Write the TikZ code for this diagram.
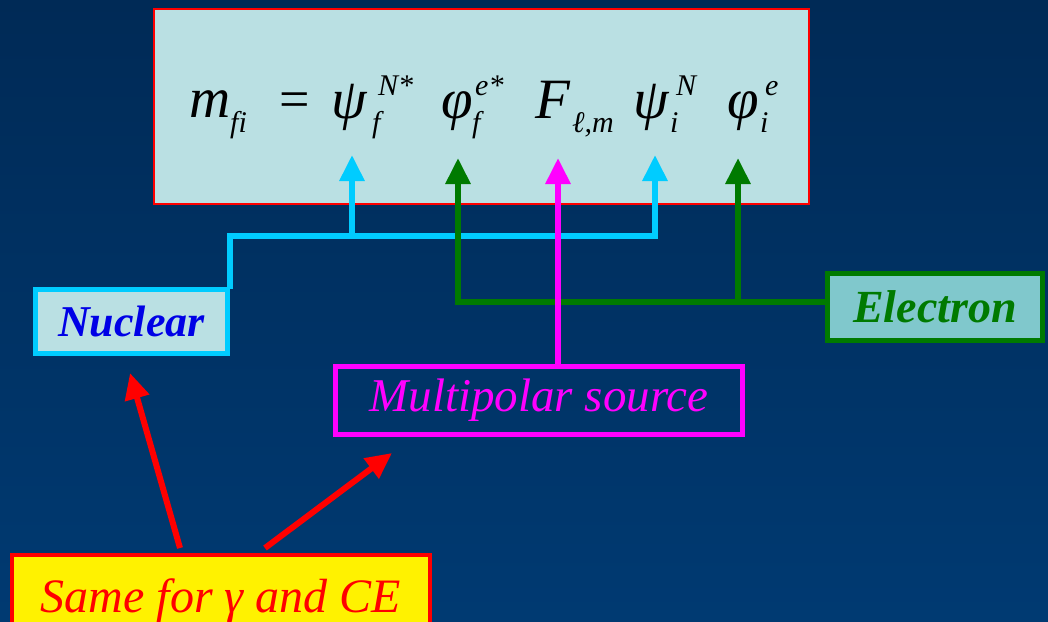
\documentclass[tikz,border=0pt]{standalone}
\usepackage{fontspec}
\setmainfont{Liberation Serif}
\usetikzlibrary{arrows.meta,calc}
\definecolor{bgtop}{RGB}{0,42,86}
\definecolor{bgbot}{RGB}{0,58,114}
\definecolor{pale}{RGB}{186,224,227}
\definecolor{teal}{RGB}{128,200,204}
\definecolor{cyanc}{RGB}{0,204,255}
\definecolor{greenc}{RGB}{0,122,0}
\definecolor{magc}{RGB}{255,0,255}
\definecolor{bluec}{RGB}{0,0,230}
\tikzset{
  big/.style={font=\fontsize{57}{62}\selectfont\itshape, inner sep=0pt, anchor=base west},
  scr/.style={font=\fontsize{30}{34}\selectfont\itshape, inner sep=0pt, anchor=base west},
  boxed/.style={inner sep=0pt, anchor=north west, line width=5pt},
  conn/.style={line width=6pt},
  tip/.style={-{Triangle[length=26pt,width=24pt]}},
}
\begin{document}
\begin{tikzpicture}[x=1pt,y=-1pt]
\useasboundingbox (0,0) rectangle (1048,621);
\clip (0,0) rectangle (1048,621);
\shade[top color=bgtop, bottom color=bgbot] (0,0) rectangle (1048,621);
% formula box
\node[draw=red, line width=2pt, fill=pale, minimum width=655pt, minimum height=195pt, anchor=north west, inner sep=0pt] (fbox) at (153,8) {};
% formula
\node[big] (m) at (189,117) {m};
\node[scr] (mfi) at (230,132) {fi};
\node[big, font=\fontsize{54}{60}\selectfont] (eq) at (279,117) {=};
\node[big] (psif) at (331,118) {ψ};
\node[scr] (psifs) at (378,95) {N*};
\node[scr] (psifb) at (372,132) {f};
\node[big] (phif) at (441,118) {φ};
\node[scr] (phifs) at (475,95) {e*};
\node[scr] (phifb) at (472,132) {f};
\node[big] (F) at (535,118) {F};
\node[scr] (Fb) at (572,132) {ℓ,m};
\node[big] (psii) at (633,118) {ψ};
\node[scr] (psiis) at (676,95) {N};
\node[scr] (psiib) at (670,132) {i};
\node[big] (phii) at (727,118) {φ};
\node[scr] (phiis) at (765,95) {e};
\node[scr] (phiib) at (760,132) {i};
% boxes
\node[boxed, draw=cyanc, fill=pale, minimum width=192pt, minimum height=64pt,
      font=\fontsize{44}{50}\selectfont\bfseries\itshape, text=bluec] (nuc) at (33,287) {Nuclear};
\node[boxed, draw=greenc, fill=teal, minimum width=215pt, minimum height=67pt,
      font=\fontsize{46}{52}\selectfont\bfseries\itshape, text=greenc] (ele) at (825,271) {Electron};
\node[boxed, draw=magc, minimum width=407pt, minimum height=68pt,
      font=\fontsize{47}{52}\selectfont\itshape, text=magc] (mul) at (333,364) {Multipolar source};
\node[boxed, draw=red, line width=4pt, fill=yellow, minimum width=418pt, minimum height=90pt] (same) at (10,553) {};
\node[anchor=base, inner sep=0pt, text=red, font=\fontsize{48}{54}\selectfont\itshape] (sametxt) at (221,612) {Same for γ and CE};
% cyan connectors
\coordinate (c0) at (230,236);
\coordinate (c1) at (352,236);
\coordinate (c2) at (655,236);
\coordinate (t1) at (352,155);
\coordinate (t2) at (655,155);
\draw[conn, cyanc] (nuc.north east -| c0) ++(0,2) -- (c0) -- (c2);
\draw[conn, cyanc, tip] (c1) -- (t1);
\draw[conn, cyanc, tip] (c2) ++(0,3) -- (t2);
% green connectors
\coordinate (g0) at (458,302);
\coordinate (g1) at (738,302);
\coordinate (gt0) at (458,158);
\coordinate (gt1) at (738,158);
\draw[conn, greenc] (ele.west |- g1) -- (g0);
\draw[conn, greenc, tip] (g0) ++(0,3) -- (gt0);
\draw[conn, greenc, tip] (g1) -- (gt1);
% magenta
\coordinate (mt) at (558,158);
\draw[conn, magc, tip] (mul.north -| mt) -- (mt);
% red arrows
\coordinate (r0) at (180,548);
\coordinate (r1) at (265,548);
\coordinate (rt0) at (130,373);
\coordinate (rt1) at (392,453);
\draw[conn, red, tip] (r0) -- (rt0);
\draw[conn, red, tip] (r1) -- (rt1);
\end{tikzpicture}
\end{document}
